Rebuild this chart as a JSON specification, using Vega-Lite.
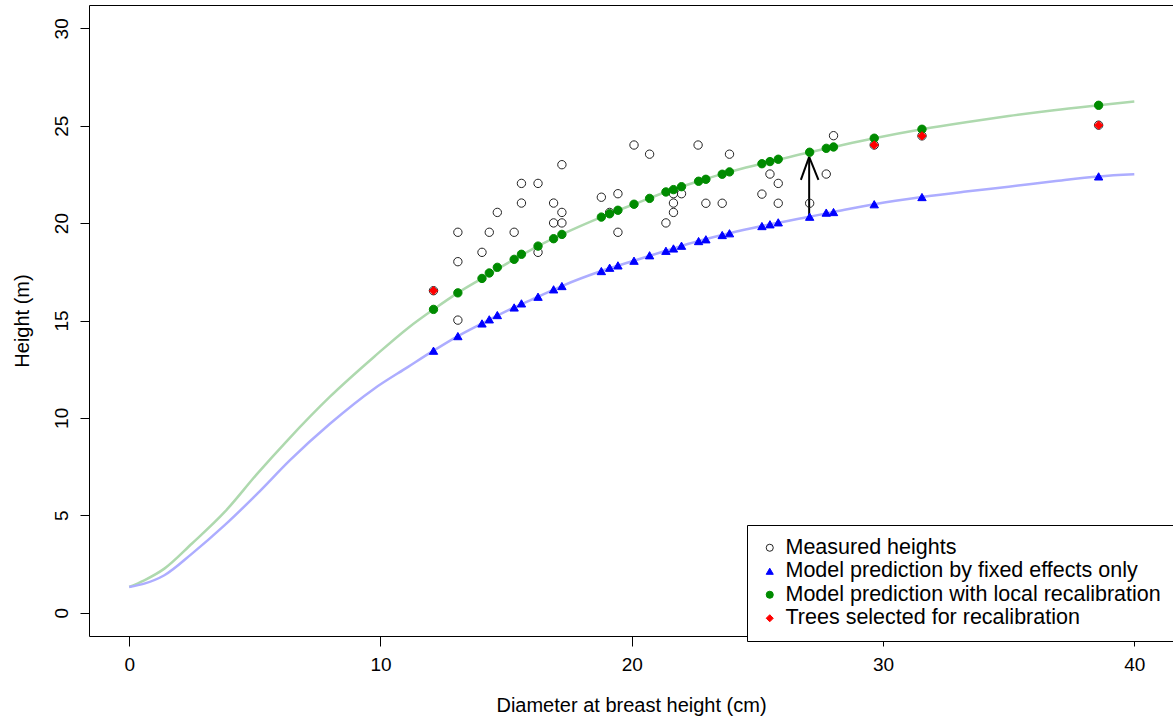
{
  "$schema": "https://vega.github.io/schema/vega-lite/v6.json",
  "width": 1084,
  "height": 631,
  "autosize": {"type": "none"},
  "padding": {"left": 89, "top": 5, "right": 0, "bottom": 86},
  "background": "white",
  "config": {
    "font": "Liberation Sans",
    "view": {"stroke": "black", "strokeWidth": 1},
    "axis": {"grid": false, "domain": false, "labelFontSize": 19, "titleFontSize": 20, "titleFontWeight": "normal", "labelColor": "black", "titleColor": "black", "tickColor": "black", "tickWidth": 1, "labelFont": "Liberation Sans", "titleFont": "Liberation Sans"},
    "legend": {"labelFont": "Liberation Sans"}
  },
  "datasets": {
    "pts": [
      {"s": "Measured heights", "x": 12.11, "y": 16.53},
      {"s": "Measured heights", "x": 13.08, "y": 19.53},
      {"s": "Measured heights", "x": 13.08, "y": 18.02},
      {"s": "Measured heights", "x": 13.08, "y": 15.02},
      {"s": "Measured heights", "x": 14.04, "y": 18.5},
      {"s": "Measured heights", "x": 14.33, "y": 19.53},
      {"s": "Measured heights", "x": 14.65, "y": 20.55},
      {"s": "Measured heights", "x": 15.32, "y": 19.53},
      {"s": "Measured heights", "x": 15.61, "y": 22.04},
      {"s": "Measured heights", "x": 15.61, "y": 21.03},
      {"s": "Measured heights", "x": 16.27, "y": 22.04},
      {"s": "Measured heights", "x": 16.27, "y": 18.5},
      {"s": "Measured heights", "x": 16.89, "y": 21.03},
      {"s": "Measured heights", "x": 16.89, "y": 20.01},
      {"s": "Measured heights", "x": 17.22, "y": 23.0},
      {"s": "Measured heights", "x": 17.22, "y": 20.55},
      {"s": "Measured heights", "x": 17.22, "y": 20.01},
      {"s": "Measured heights", "x": 18.79, "y": 21.33},
      {"s": "Measured heights", "x": 19.12, "y": 20.55},
      {"s": "Measured heights", "x": 19.45, "y": 21.51},
      {"s": "Measured heights", "x": 19.45, "y": 19.53},
      {"s": "Measured heights", "x": 20.09, "y": 24.01},
      {"s": "Measured heights", "x": 20.71, "y": 23.54},
      {"s": "Measured heights", "x": 21.36, "y": 20.01},
      {"s": "Measured heights", "x": 21.66, "y": 21.51},
      {"s": "Measured heights", "x": 21.66, "y": 21.03},
      {"s": "Measured heights", "x": 21.66, "y": 20.55},
      {"s": "Measured heights", "x": 21.98, "y": 21.51},
      {"s": "Measured heights", "x": 22.64, "y": 24.01},
      {"s": "Measured heights", "x": 22.95, "y": 21.02},
      {"s": "Measured heights", "x": 23.6, "y": 21.02},
      {"s": "Measured heights", "x": 23.89, "y": 23.54},
      {"s": "Measured heights", "x": 25.18, "y": 21.49},
      {"s": "Measured heights", "x": 25.5, "y": 22.52},
      {"s": "Measured heights", "x": 25.83, "y": 22.04},
      {"s": "Measured heights", "x": 25.83, "y": 21.02},
      {"s": "Measured heights", "x": 27.08, "y": 21.02},
      {"s": "Measured heights", "x": 27.74, "y": 22.52},
      {"s": "Measured heights", "x": 28.03, "y": 24.49},
      {"s": "Measured heights", "x": 29.65, "y": 24.01},
      {"s": "Measured heights", "x": 31.55, "y": 24.48},
      {"s": "Measured heights", "x": 38.58, "y": 25.03},
      {"s": "Model prediction by fixed effects only", "x": 12.11, "y": 13.45},
      {"s": "Model prediction by fixed effects only", "x": 13.08, "y": 14.2},
      {"s": "Model prediction by fixed effects only", "x": 14.04, "y": 14.85},
      {"s": "Model prediction by fixed effects only", "x": 14.33, "y": 15.06},
      {"s": "Model prediction by fixed effects only", "x": 14.65, "y": 15.28},
      {"s": "Model prediction by fixed effects only", "x": 15.32, "y": 15.67},
      {"s": "Model prediction by fixed effects only", "x": 15.61, "y": 15.88},
      {"s": "Model prediction by fixed effects only", "x": 16.27, "y": 16.22},
      {"s": "Model prediction by fixed effects only", "x": 16.89, "y": 16.6},
      {"s": "Model prediction by fixed effects only", "x": 17.22, "y": 16.77},
      {"s": "Model prediction by fixed effects only", "x": 18.79, "y": 17.54},
      {"s": "Model prediction by fixed effects only", "x": 19.12, "y": 17.71},
      {"s": "Model prediction by fixed effects only", "x": 19.45, "y": 17.83},
      {"s": "Model prediction by fixed effects only", "x": 20.09, "y": 18.07},
      {"s": "Model prediction by fixed effects only", "x": 20.71, "y": 18.35},
      {"s": "Model prediction by fixed effects only", "x": 21.36, "y": 18.58},
      {"s": "Model prediction by fixed effects only", "x": 21.66, "y": 18.7},
      {"s": "Model prediction by fixed effects only", "x": 21.98, "y": 18.84},
      {"s": "Model prediction by fixed effects only", "x": 22.66, "y": 19.08},
      {"s": "Model prediction by fixed effects only", "x": 22.95, "y": 19.17},
      {"s": "Model prediction by fixed effects only", "x": 23.6, "y": 19.39},
      {"s": "Model prediction by fixed effects only", "x": 23.89, "y": 19.48},
      {"s": "Model prediction by fixed effects only", "x": 25.18, "y": 19.85},
      {"s": "Model prediction by fixed effects only", "x": 25.5, "y": 19.94},
      {"s": "Model prediction by fixed effects only", "x": 25.83, "y": 20.04},
      {"s": "Model prediction by fixed effects only", "x": 27.08, "y": 20.33},
      {"s": "Model prediction by fixed effects only", "x": 27.74, "y": 20.54},
      {"s": "Model prediction by fixed effects only", "x": 28.03, "y": 20.57},
      {"s": "Model prediction by fixed effects only", "x": 29.65, "y": 20.97},
      {"s": "Model prediction by fixed effects only", "x": 31.55, "y": 21.34},
      {"s": "Model prediction by fixed effects only", "x": 38.58, "y": 22.4},
      {"s": "Model prediction with local recalibration", "x": 12.11, "y": 15.57},
      {"s": "Model prediction with local recalibration", "x": 13.08, "y": 16.42},
      {"s": "Model prediction with local recalibration", "x": 14.04, "y": 17.16},
      {"s": "Model prediction with local recalibration", "x": 14.33, "y": 17.44},
      {"s": "Model prediction with local recalibration", "x": 14.65, "y": 17.73},
      {"s": "Model prediction with local recalibration", "x": 15.32, "y": 18.14},
      {"s": "Model prediction with local recalibration", "x": 15.61, "y": 18.4},
      {"s": "Model prediction with local recalibration", "x": 16.27, "y": 18.82},
      {"s": "Model prediction with local recalibration", "x": 16.89, "y": 19.2},
      {"s": "Model prediction with local recalibration", "x": 17.22, "y": 19.42},
      {"s": "Model prediction with local recalibration", "x": 18.79, "y": 20.31},
      {"s": "Model prediction with local recalibration", "x": 19.12, "y": 20.48},
      {"s": "Model prediction with local recalibration", "x": 19.45, "y": 20.66},
      {"s": "Model prediction with local recalibration", "x": 20.09, "y": 20.97},
      {"s": "Model prediction with local recalibration", "x": 20.71, "y": 21.27},
      {"s": "Model prediction with local recalibration", "x": 21.36, "y": 21.6},
      {"s": "Model prediction with local recalibration", "x": 21.66, "y": 21.72},
      {"s": "Model prediction with local recalibration", "x": 21.98, "y": 21.87},
      {"s": "Model prediction with local recalibration", "x": 22.66, "y": 22.15},
      {"s": "Model prediction with local recalibration", "x": 22.95, "y": 22.25},
      {"s": "Model prediction with local recalibration", "x": 23.6, "y": 22.51},
      {"s": "Model prediction with local recalibration", "x": 23.89, "y": 22.63},
      {"s": "Model prediction with local recalibration", "x": 25.18, "y": 23.05},
      {"s": "Model prediction with local recalibration", "x": 25.5, "y": 23.16},
      {"s": "Model prediction with local recalibration", "x": 25.83, "y": 23.28},
      {"s": "Model prediction with local recalibration", "x": 27.08, "y": 23.64},
      {"s": "Model prediction with local recalibration", "x": 27.74, "y": 23.84},
      {"s": "Model prediction with local recalibration", "x": 28.03, "y": 23.91},
      {"s": "Model prediction with local recalibration", "x": 29.65, "y": 24.36},
      {"s": "Model prediction with local recalibration", "x": 31.55, "y": 24.82},
      {"s": "Model prediction with local recalibration", "x": 38.58, "y": 26.05},
      {"s": "Trees selected for recalibration", "x": 12.11, "y": 16.53},
      {"s": "Trees selected for recalibration", "x": 29.65, "y": 24.01},
      {"s": "Trees selected for recalibration", "x": 31.55, "y": 24.48},
      {"s": "Trees selected for recalibration", "x": 38.58, "y": 25.03}
    ],
    "green": [
      {"x": 0, "y": 1.32}, {"x": 0.6, "y": 1.66}, {"x": 1.4, "y": 2.26}, {"x": 2.5, "y": 3.55},
      {"x": 3.8, "y": 5.17}, {"x": 5.1, "y": 7.14}, {"x": 6.3, "y": 8.85}, {"x": 8.0, "y": 11.1},
      {"x": 9.75, "y": 13.14}, {"x": 11.1, "y": 14.62}, {"x": 12.11, "y": 15.57}, {"x": 13.08, "y": 16.42},
      {"x": 14.04, "y": 17.16}, {"x": 15.32, "y": 18.14}, {"x": 16.27, "y": 18.82}, {"x": 17.22, "y": 19.42},
      {"x": 18.79, "y": 20.31}, {"x": 20.09, "y": 20.97}, {"x": 21.36, "y": 21.6}, {"x": 22.66, "y": 22.15},
      {"x": 23.89, "y": 22.63}, {"x": 25.18, "y": 23.05}, {"x": 27.08, "y": 23.64}, {"x": 28.03, "y": 23.91},
      {"x": 29.65, "y": 24.36}, {"x": 31.55, "y": 24.82}, {"x": 33.3, "y": 25.18}, {"x": 35.0, "y": 25.5},
      {"x": 36.8, "y": 25.8}, {"x": 38.58, "y": 26.05}, {"x": 40, "y": 26.24}
    ],
    "blue": [
      {"x": 0, "y": 1.32}, {"x": 0.6, "y": 1.49}, {"x": 1.4, "y": 1.92}, {"x": 2.5, "y": 3.03},
      {"x": 3.8, "y": 4.49}, {"x": 5.1, "y": 6.11}, {"x": 6.4, "y": 7.83}, {"x": 8.0, "y": 9.71},
      {"x": 9.75, "y": 11.5}, {"x": 11.1, "y": 12.62}, {"x": 12.11, "y": 13.45}, {"x": 13.08, "y": 14.2},
      {"x": 14.04, "y": 14.85}, {"x": 15.32, "y": 15.67}, {"x": 16.27, "y": 16.22}, {"x": 17.22, "y": 16.77},
      {"x": 18.79, "y": 17.54}, {"x": 20.09, "y": 18.07}, {"x": 21.36, "y": 18.58}, {"x": 22.66, "y": 19.08},
      {"x": 23.89, "y": 19.48}, {"x": 25.18, "y": 19.85}, {"x": 27.08, "y": 20.33}, {"x": 28.03, "y": 20.57},
      {"x": 29.65, "y": 20.97}, {"x": 31.55, "y": 21.34}, {"x": 33.3, "y": 21.62}, {"x": 35.0, "y": 21.87},
      {"x": 36.8, "y": 22.15}, {"x": 38.58, "y": 22.4}, {"x": 40, "y": 22.51}
    ],
    "arrow": [
      {"x": 27.06, "y": 20.33, "x2": 27.06, "y2": 23.4},
      {"x": 26.73, "y": 22.22, "x2": 27.06, "y2": 23.4},
      {"x": 27.43, "y": 22.22, "x2": 27.06, "y2": 23.4}
    ]
  },
  "encoding": {
    "x": {"field": "x", "type": "quantitative",
      "scale": {"domain": [-1.6, 41.54], "nice": false, "zero": false},
      "axis": {"values": [0, 10, 20, 30, 40], "tickSize": 10, "labelPadding": 9, "title": "Diameter at breast height (cm)", "titlePadding": 21}},
    "y": {"field": "y", "type": "quantitative",
      "scale": {"domain": [-1.2, 31.2], "nice": false, "zero": false},
      "axis": {"values": [0, 5, 10, 15, 20, 25, 30], "tickSize": 9, "labelAngle": 270, "labelAlign": "center", "labelBaseline": "bottom", "labelPadding": 9, "title": "Height (m)", "titlePadding": 20}}
  },
  "layer": [
    {"data": {"name": "green"}, "mark": {"type": "line", "color": "#aed9ae", "strokeWidth": 2.5, "interpolate": "monotone"}, "encoding": {}},
    {"data": {"name": "blue"}, "mark": {"type": "line", "color": "#adadff", "strokeWidth": 2.5, "interpolate": "monotone"}, "encoding": {}},
    {"data": {"name": "arrow"}, "mark": {"type": "rule", "color": "black", "strokeWidth": 2}, "encoding": {"x2": {"field": "x2"}, "y2": {"field": "y2"}}},
    {"data": {"name": "pts"}, "mark": {"type": "point", "size": 70, "strokeWidth": 1, "opacity": 1},
      "encoding": {
        "shape": {"field": "s", "type": "nominal",
          "scale": {"domain": ["Measured heights", "Model prediction by fixed effects only", "Model prediction with local recalibration", "Trees selected for recalibration"], "range": ["circle", "triangle-up", "circle", "diamond"]},
          "legend": {"title": null, "orient": "none", "legendX": 658, "legendY": 520, "strokeColor": "black", "fillColor": "white", "padding": 12, "labelFontSize": 21.5, "labelColor": "black", "symbolSize": 50, "symbolStrokeWidth": 1, "rowPadding": 0.5, "labelOffset": 5, "symbolOffset": 0, "cornerRadius": 0, "labelLimit": 600}},
        "fill": {"field": "s", "type": "nominal",
          "scale": {"domain": ["Measured heights", "Model prediction by fixed effects only", "Model prediction with local recalibration", "Trees selected for recalibration"], "range": ["transparent", "#0000ff", "#008b00", "#ff0000"]}},
        "stroke": {"field": "s", "type": "nominal",
          "scale": {"domain": ["Measured heights", "Model prediction by fixed effects only", "Model prediction with local recalibration", "Trees selected for recalibration"], "range": ["#222222", "#0000ff", "#008b00", "#ff0000"]}}
      }}
  ]
}
